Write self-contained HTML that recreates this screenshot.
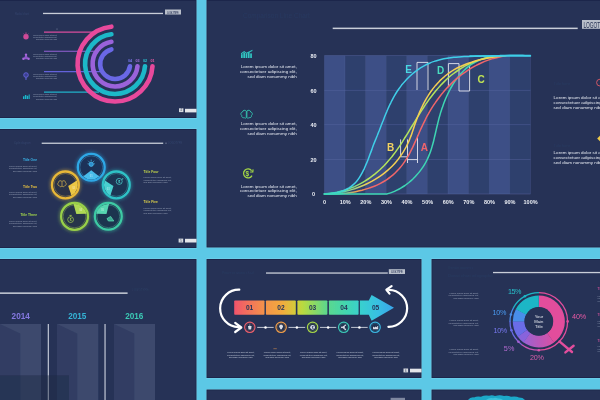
<!DOCTYPE html>
<html lang="en">
<head>
<meta charset="utf-8">
<title>Infographic slide templates</title>
<style>
  html, body { margin: 0; padding: 0; background: #5cc8e6; }
  body { width: 600px; height: 400px; overflow: hidden; font-family: "Liberation Sans", sans-serif; }
  svg { display: block; }
  text { font-family: "Liberation Sans", sans-serif; }
</style>
</head>
<body>
<svg width="600" height="400" viewBox="0 0 600 400">
  <defs>
    <linearGradient id="gArrow" x1="0" y1="0" x2="1" y2="0">
      <stop offset="0" stop-color="#ee4a6a"/>
      <stop offset="0.2" stop-color="#f5923a"/>
      <stop offset="0.36" stop-color="#e8c830"/>
      <stop offset="0.5" stop-color="#9ad848"/>
      <stop offset="0.68" stop-color="#4ad29a"/>
      <stop offset="0.85" stop-color="#38c4d4"/>
      <stop offset="1" stop-color="#3aa6ea"/>
    </linearGradient>
    <filter id="blur1" x="-20%" y="-20%" width="140%" height="140%"><feGaussianBlur stdDeviation="0.45"/></filter>
    <filter id="blur2" x="-20%" y="-20%" width="140%" height="140%"><feGaussianBlur stdDeviation="0.8"/></filter>
    <filter id="glow" x="-30%" y="-30%" width="160%" height="160%"><feGaussianBlur stdDeviation="1.6"/></filter>
    <filter id="soft" filterUnits="userSpaceOnUse" x="-10" y="-10" width="620" height="420"><feGaussianBlur stdDeviation="0.38"/></filter>
  </defs>

  <g filter="url(#soft)">
  <!-- gutters / background -->
  <rect x="-10" y="-10" width="620" height="420" fill="#5cc8e6"/>

  <!-- ================= PANELS ================= -->
  <g>
    <rect x="-3.5" y="-0.5" width="200.5" height="119" fill="#76d2ec"/>
    <rect x="-3" y="0" width="199.5" height="118" fill="#1c284a"/>
    <rect x="-2.1" y="0.9" width="197.7" height="116.2" fill="#263357"/>
    <rect x="-3.5" y="128.5" width="200.5" height="120" fill="#76d2ec"/>
    <rect x="-3" y="129" width="199.5" height="119" fill="#1c284a"/>
    <rect x="-2.1" y="129.9" width="197.7" height="117.2" fill="#263357"/>
    <rect x="-3.5" y="258.5" width="200.5" height="145" fill="#76d2ec"/>
    <rect x="-3" y="259" width="199.5" height="144" fill="#1c284a"/>
    <rect x="-2.1" y="259.9" width="197.7" height="142.2" fill="#263357"/>
    <rect x="206.0" y="-0.5" width="397.5" height="248.5" fill="#76d2ec"/>
    <rect x="206.5" y="0" width="396.5" height="247.5" fill="#1c284a"/>
    <rect x="207.4" y="0.9" width="394.7" height="245.7" fill="#263357"/>
    <rect x="206.0" y="258.5" width="216.0" height="120" fill="#76d2ec"/>
    <rect x="206.5" y="259" width="215.0" height="119" fill="#1c284a"/>
    <rect x="207.4" y="259.9" width="213.2" height="117.2" fill="#263357"/>
    <rect x="431.0" y="258.5" width="172.5" height="120" fill="#76d2ec"/>
    <rect x="431.5" y="259" width="171.5" height="119" fill="#1c284a"/>
    <rect x="432.4" y="259.9" width="169.7" height="117.2" fill="#263357"/>
    <rect x="206.0" y="389.0" width="216.0" height="14.5" fill="#76d2ec"/>
    <rect x="206.5" y="389.5" width="215.0" height="13.5" fill="#1c284a"/>
    <rect x="207.4" y="390.4" width="213.2" height="11.7" fill="#263357"/>
    <rect x="431.0" y="389.0" width="172.5" height="14.5" fill="#76d2ec"/>
    <rect x="431.5" y="389.5" width="171.5" height="13.5" fill="#1c284a"/>
    <rect x="432.4" y="390.4" width="169.7" height="11.7" fill="#263357"/>
  </g>

  <!-- PANEL-TL -->
  <g id="tl">
    <rect x="43" y="12.8" width="120" height="1.3" fill="#c9ced8"/>
    <rect x="165" y="9.5" width="16" height="5" fill="#b9bfca"/>
    <text x="173" y="13.6" font-size="3.6" text-anchor="middle" fill="#3a4566" textLength="12">LOGOTYPE</text>
    <text x="15" y="14.6" font-size="2.6" fill="#36446c">Radial chart</text>
    <rect x="56.6" y="28.4" width="0.8" height="1.4" fill="#8a93ab" opacity="0.7"/>
    <g stroke-width="1.1" fill="none">
      <path d="M44 32.1 H96" stroke="#d84c9c"/>
      <path d="M44 51.3 H95" stroke="#9460d4"/>
      <path d="M44 71.6 H100" stroke="#6462da"/>
      <path d="M44 92.1 H99" stroke="#1fb2c8"/>
    </g>
    <g fill="none" stroke-width="4.6" stroke-linecap="round">
      <path d="M152.5 66.2 A37.5 37.5 0 1 1 111.4 26.67" stroke="#e84a9c"/>
      <path d="M145 66.2 A30 30 0 1 1 111.4 34.22" stroke="#1fb8c8"/>
      <path d="M137.5 66.2 A22.5 22.5 0 1 1 111.4 41.79" stroke="#9a62da"/>
      <path d="M130 66.2 A15 15 0 1 1 111.4 49.44" stroke="#6a68e6"/>
    </g>
    <rect x="126" y="57" width="30" height="6.9" fill="#263357"/>
    <g font-size="3.7" font-weight="bold" text-anchor="middle">
      <text x="130" y="61.9" fill="#7a78ea">04</text>
      <text x="137.5" y="61.9" fill="#a870e0">03</text>
      <text x="145" y="61.9" fill="#2cc4d2">02</text>
      <text x="152.5" y="61.9" fill="#ee5aa6">01</text>
    </g>
    <g>
      <circle cx="26" cy="36.8" r="2.7" fill="#cf4a98"/>
      <path d="M23.6 33.8 l1 0.9 M28.4 33.8 l-1 0.9 M26 32.4 v1.6" stroke="#cf4a98" stroke-width="0.8" fill="none"/>
      <path d="M26 54.6 l3 4.6 h-6z" fill="#8f58cc"/>
      <circle cx="26" cy="54.8" r="1.2" fill="#a868dc"/><circle cx="23.4" cy="58.8" r="1.2" fill="#a868dc"/><circle cx="28.6" cy="58.8" r="1.2" fill="#a868dc"/>
      <circle cx="26" cy="75" r="2.3" fill="#3a3f8e" stroke="#6a68e6" stroke-width="0.8"/>
      <path d="M25 78 h2 M25.2 79.2 h1.6" stroke="#6a68e6" stroke-width="0.8"/>
      <path d="M23 99 v-2.8 h1.4 v2.8z M24.9 99 v-4 h1.4 v4z M26.8 99 v-3.2 h1.4 v3.2z M28.7 99 v-4.6 h1 v4.6z" fill="#1ab6ca"/>
    </g>
    <g fill="#aeb6c9" opacity="0.7" font-size="2.3" text-anchor="end">
      <text x="57" y="35.5" textLength="24">Lorem ipsum dolor sit amet,</text>
      <text x="57" y="37.7" textLength="24">consectetuer adipiscing elit,</text>
      <text x="57" y="39.9" textLength="21">sed diam nonummy nibh</text>
      <text x="57" y="54.8" textLength="24">Lorem ipsum dolor sit amet,</text>
      <text x="57" y="57.0" textLength="24">consectetuer adipiscing elit,</text>
      <text x="57" y="59.2" textLength="21">sed diam nonummy nibh</text>
      <text x="57" y="75.0" textLength="24">Lorem ipsum dolor sit amet,</text>
      <text x="57" y="77.2" textLength="24">consectetuer adipiscing elit,</text>
      <text x="57" y="79.4" textLength="21">sed diam nonummy nibh</text>
      <text x="57" y="95.2" textLength="24">Lorem ipsum dolor sit amet,</text>
      <text x="57" y="97.4" textLength="24">consectetuer adipiscing elit,</text>
      <text x="57" y="99.6" textLength="21">sed diam nonummy nibh</text>
    </g>
    <rect x="179" y="108.3" width="4.4" height="3.8" fill="#d5d8de"/>
    <text x="181.2" y="111.4" font-size="2.6" text-anchor="middle" fill="#263357">4</text>
    <rect x="185" y="108.8" width="11.5" height="3.6" fill="#e3e5e9"/>
  </g>
  <!-- PANEL-ML -->
  <g id="ml">
    <rect x="41.7" y="142.6" width="121.5" height="1.3" fill="#c9ced8"/>
    <circle cx="166" cy="143.2" r="0.6" fill="#8a93ab"/>
    <text x="14" y="144.4" font-size="2.6" fill="#36446c">Cycle diagram</text>
    <text x="168" y="144.4" font-size="2.6" fill="#36446c">LOGOTYPE</text>
    <g>
      <circle cx="91.25" cy="167.3" r="13.5" fill="none" stroke="#2fa8e6" stroke-width="4.4" opacity="0.4" filter="url(#glow)"/>
      <circle cx="91.25" cy="167.3" r="13.4" fill="#1d3158" stroke="#2fa8e6" stroke-width="2.3"/>
      <circle cx="91.25" cy="167.3" r="11.4" fill="none" stroke="#4cc4f2" stroke-width="0.5" opacity="0.65"/>
      <path d="M91.24 170.30 L99.29 176.61 A12.3 12.3 0 0 1 83.15 176.56 Z" fill="#4cc4f2" opacity="0.95"/>
    </g>
    <g>
      <circle cx="65.4" cy="184.9" r="13.5" fill="none" stroke="#e8b838" stroke-width="4.4" opacity="0.4" filter="url(#glow)"/>
      <circle cx="65.4" cy="184.9" r="13.4" fill="#2b3147" stroke="#e8b838" stroke-width="2.3"/>
      <circle cx="65.4" cy="184.9" r="11.4" fill="none" stroke="#f5cf44" stroke-width="0.5" opacity="0.65"/>
      <path d="M68.23 185.90 L76.84 180.38 A12.3 12.3 0 0 1 71.46 195.60 Z" fill="#f5cf44" opacity="0.95"/>
    </g>
    <g>
      <circle cx="116.3" cy="184.9" r="13.5" fill="none" stroke="#2fc2c6" stroke-width="4.4" opacity="0.4" filter="url(#glow)"/>
      <circle cx="116.3" cy="184.9" r="13.4" fill="#1d3452" stroke="#2fc2c6" stroke-width="2.3"/>
      <circle cx="116.3" cy="184.9" r="11.4" fill="none" stroke="#4cd8d6" stroke-width="0.5" opacity="0.65"/>
      <path d="M113.48 185.92 L110.32 195.65 A12.3 12.3 0 0 1 104.82 180.47 Z" fill="#4cd8d6" opacity="0.95"/>
    </g>
    <g>
      <circle cx="74.55" cy="216.4" r="13.5" fill="none" stroke="#98d048" stroke-width="4.4" opacity="0.4" filter="url(#glow)"/>
      <circle cx="74.55" cy="216.4" r="13.4" fill="#28354a" stroke="#98d048" stroke-width="2.3"/>
      <circle cx="74.55" cy="216.4" r="11.4" fill="none" stroke="#b6e254" stroke-width="0.5" opacity="0.65"/>
      <path d="M76.34 213.99 L73.60 204.14 A12.3 12.3 0 0 1 86.56 213.75 Z" fill="#b6e254" opacity="0.95"/>
    </g>
    <g>
      <circle cx="108.3" cy="216.3" r="13.5" fill="none" stroke="#3ecaa4" stroke-width="4.4" opacity="0.4" filter="url(#glow)"/>
      <circle cx="108.3" cy="216.3" r="13.4" fill="#1e364f" stroke="#3ecaa4" stroke-width="2.3"/>
      <circle cx="108.3" cy="216.3" r="11.4" fill="none" stroke="#5adeb6" stroke-width="0.5" opacity="0.65"/>
      <path d="M106.47 213.92 L96.24 213.86 A12.3 12.3 0 0 1 109.04 204.02 Z" fill="#5adeb6" opacity="0.95"/>
    </g>
    <g fill="none" stroke-width="0.7">
      <circle cx="91.2" cy="164.2" r="2.2" stroke="#4cc4f2" fill="#2f8fce"/>
      <path d="M91.2 159.6 v1.4 M88.2 160.8 l1 1 M94.2 160.8 l-1 1 M87.6 163.8 h1 M93.8 163.8 h1" stroke="#4cc4f2"/>
      <path d="M58.4 182.6 c0 -2 2.6 -2.6 3.6 -1 c1 -1.6 3.6 -1 3.6 1 c1.2 1 0.6 3 -0.8 3 c-0.6 1.4 -2.2 1.4 -2.8 0.4 c-0.6 1 -2.2 1 -2.8 -0.4 c-1.4 0 -2 -2 -0.8 -3z M62 181.8 v4.4" stroke="#d8b64c"/>
      <circle cx="119.2" cy="181.4" r="3" stroke="#4cd8d6"/>
      <path d="M122 179 l0.9 0.2 l-0.1 -1" stroke="#4cd8d6"/>
      <circle cx="70.6" cy="219.6" r="2.9" stroke="#a6d44e"/>
      <path d="M70.6 215.6 v1 M69.4 215.4 h2.4" stroke="#a6d44e"/>
      <path d="M110.6 216.4 l3.2 4.6 h-5.4 l-1.4 -2.4z" stroke="#5adeb6" fill="#3aa890"/>
    </g>
    <text x="119.2" y="182.8" font-size="3.8" font-weight="bold" text-anchor="middle" fill="#4cd8d6">$</text>
    <text x="70.6" y="220.8" font-size="3.2" font-weight="bold" text-anchor="middle" fill="#a6d44e">$</text>
    <g font-size="2.6" font-weight="bold" text-anchor="middle" fill="#ffffff" opacity="0.45">
      <text x="91.2" y="176.8">01</text><text x="73.6" y="189.4">02</text><text x="108.2" y="190.2">03</text>
      <text x="80.6" y="210.6">04</text><text x="102.4" y="210.6">05</text>
    </g>
    <text x="37" y="161" font-size="3.3" font-weight="bold" text-anchor="end" fill="#3ab4ea">Title One</text>
    <text x="37" y="166.6" font-size="2.3" text-anchor="end" fill="#aeb6c9" opacity="0.8" textLength="28">Lorem ipsum dolor sit amet,</text>
    <text x="37" y="169.2" font-size="2.3" text-anchor="end" fill="#aeb6c9" opacity="0.8" textLength="28">consectetuer adipiscing elit,</text>
    <text x="37" y="171.8" font-size="2.3" text-anchor="end" fill="#aeb6c9" opacity="0.8" textLength="24">sed diam nonummy nibh</text>
    <text x="37" y="187.6" font-size="3.3" font-weight="bold" text-anchor="end" fill="#e8c040">Title Two</text>
    <text x="37" y="192.8" font-size="2.3" text-anchor="end" fill="#aeb6c9" opacity="0.8" textLength="28">Lorem ipsum dolor sit amet,</text>
    <text x="37" y="195.4" font-size="2.3" text-anchor="end" fill="#aeb6c9" opacity="0.8" textLength="28">consectetuer adipiscing elit,</text>
    <text x="37" y="198.0" font-size="2.3" text-anchor="end" fill="#aeb6c9" opacity="0.8" textLength="24">sed diam nonummy nibh</text>
    <text x="37" y="216" font-size="3.3" font-weight="bold" text-anchor="end" fill="#a4d84a">Title Three</text>
    <text x="37" y="221.6" font-size="2.3" text-anchor="end" fill="#aeb6c9" opacity="0.8" textLength="28">Lorem ipsum dolor sit amet,</text>
    <text x="37" y="224.2" font-size="2.3" text-anchor="end" fill="#aeb6c9" opacity="0.8" textLength="28">consectetuer adipiscing elit,</text>
    <text x="37" y="226.8" font-size="2.3" text-anchor="end" fill="#aeb6c9" opacity="0.8" textLength="24">sed diam nonummy nibh</text>
    <text x="143.5" y="173" font-size="3.3" font-weight="bold" text-anchor="start" fill="#c4d64a">Title Four</text>
    <text x="143.5" y="178.2" font-size="2.3" text-anchor="start" fill="#aeb6c9" opacity="0.8" textLength="28">Lorem ipsum dolor sit amet,</text>
    <text x="143.5" y="180.8" font-size="2.3" text-anchor="start" fill="#aeb6c9" opacity="0.8" textLength="28">consectetuer adipiscing elit,</text>
    <text x="143.5" y="183.4" font-size="2.3" text-anchor="start" fill="#aeb6c9" opacity="0.8" textLength="24">sed diam nonummy nibh</text>
    <text x="143.5" y="203" font-size="3.3" font-weight="bold" text-anchor="start" fill="#e0d24a">Title Five</text>
    <text x="143.5" y="208.6" font-size="2.3" text-anchor="start" fill="#aeb6c9" opacity="0.8" textLength="28">Lorem ipsum dolor sit amet,</text>
    <text x="143.5" y="211.2" font-size="2.3" text-anchor="start" fill="#aeb6c9" opacity="0.8" textLength="28">consectetuer adipiscing elit,</text>
    <text x="143.5" y="213.8" font-size="2.3" text-anchor="start" fill="#aeb6c9" opacity="0.8" textLength="24">sed diam nonummy nibh</text>
    <rect x="178.6" y="238.6" width="4.6" height="3.9" fill="#d5d8de"/>
    <text x="180.9" y="241.7" font-size="2.6" text-anchor="middle" fill="#263357">5</text>
    <rect x="185" y="238.8" width="11.5" height="3.7" fill="#e3e5e9"/>
  </g>
  <!-- PANEL-BL -->
  <g id="bl">
    <rect x="0" y="292.4" width="127.6" height="1.5" fill="#c9ced8"/>
    <text x="132" y="291" font-size="3" fill="#2f3c62">LOGOTYPE</text>
    <g font-size="8.2" font-weight="bold" text-anchor="middle">
      <text x="20.7" y="319" fill="#8578e0">2014</text>
      <text x="77.3" y="319" fill="#35b4d6">2015</text>
      <text x="134.3" y="319" fill="#3cc8b4">2016</text>
    </g>
    <!-- folded ribbons -->
    <g>
      <rect x="0" y="324" width="41" height="76" fill="#3d496d"/>
      <path d="M0 324 L20.3 333.5 V400 H0Z" fill="#323e64"/>
      <rect x="57.3" y="324" width="41" height="76" fill="#3d496d"/>
      <path d="M57.3 324 L77.3 333.5 V400 H57.3Z" fill="#323e64"/>
      <rect x="114" y="324" width="41" height="76" fill="#3d496d"/>
      <path d="M114 324 L134.3 333.5 V400 H114Z" fill="#323e64"/>
    </g>
    <rect x="47.7" y="324" width="1.3" height="76" fill="#b4bacb"/>
    <rect x="104.4" y="324" width="1.3" height="76" fill="#b4bacb"/>
    <rect x="0" y="375.3" width="69" height="24.7" fill="#1b2540" opacity="0.42"/>
  </g>
  <!-- PANEL-MAIN -->
  <g id="main">
    <rect x="332.7" y="27.6" width="245" height="1.5" fill="#c9ced8"/>
    <rect x="582" y="20" width="18" height="8.8" fill="#b9bfca"/>
    <text x="583.4" y="27.5" font-size="8.8" fill="#2a3556" textLength="16.8" lengthAdjust="spacingAndGlyphs">LOGOT</text>
    <text x="243" y="18" font-size="6.5" fill="#2b3960" opacity="0.9">Comparison Line Chart</text>
    <rect x="324.4" y="55.6" width="20.7" height="138.4" fill="#3d4f86"/>
    <rect x="345.0" y="55.6" width="20.7" height="138.4" fill="#2f3f6d"/>
    <rect x="365.6" y="55.6" width="20.7" height="138.4" fill="#3d4f86"/>
    <rect x="386.2" y="55.6" width="20.7" height="138.4" fill="#2f3f6d"/>
    <rect x="406.8" y="55.6" width="20.7" height="138.4" fill="#3d4f86"/>
    <rect x="427.4" y="55.6" width="20.7" height="138.4" fill="#2f3f6d"/>
    <rect x="448.0" y="55.6" width="20.7" height="138.4" fill="#3d4f86"/>
    <rect x="468.6" y="55.6" width="20.7" height="138.4" fill="#2f3f6d"/>
    <rect x="489.2" y="55.6" width="20.7" height="138.4" fill="#3d4f86"/>
    <rect x="509.8" y="55.6" width="20.7" height="138.4" fill="#2f3f6d"/>
    <rect x="324.4" y="55.35" width="206" height="0.5" fill="#5a6ca6" opacity="0.8"/>
    <rect x="324.4" y="89.95" width="206" height="0.5" fill="#5a6ca6" opacity="0.8"/>
    <rect x="324.4" y="124.55" width="206" height="0.5" fill="#5a6ca6" opacity="0.8"/>
    <rect x="324.4" y="159.15" width="206" height="0.5" fill="#5a6ca6" opacity="0.8"/>
    <rect x="324.4" y="193.75" width="206" height="0.5" fill="#5a6ca6" opacity="0.8"/>
    <rect x="324.15" y="55.6" width="0.5" height="138.4" fill="#5a6ca6" opacity="0.45"/>
    <rect x="344.75" y="55.6" width="0.5" height="138.4" fill="#5a6ca6" opacity="0.45"/>
    <rect x="365.35" y="55.6" width="0.5" height="138.4" fill="#5a6ca6" opacity="0.45"/>
    <rect x="385.95" y="55.6" width="0.5" height="138.4" fill="#5a6ca6" opacity="0.45"/>
    <rect x="406.55" y="55.6" width="0.5" height="138.4" fill="#5a6ca6" opacity="0.45"/>
    <rect x="427.15" y="55.6" width="0.5" height="138.4" fill="#5a6ca6" opacity="0.45"/>
    <rect x="447.75" y="55.6" width="0.5" height="138.4" fill="#5a6ca6" opacity="0.45"/>
    <rect x="468.35" y="55.6" width="0.5" height="138.4" fill="#5a6ca6" opacity="0.45"/>
    <rect x="488.95" y="55.6" width="0.5" height="138.4" fill="#5a6ca6" opacity="0.45"/>
    <rect x="509.55" y="55.6" width="0.5" height="138.4" fill="#5a6ca6" opacity="0.45"/>
    <rect x="530.15" y="55.6" width="0.5" height="138.4" fill="#5a6ca6" opacity="0.45"/>
    <g font-size="5.5" font-weight="bold" fill="#eceef4" text-anchor="middle">
      <text x="313.6" y="58.2">80</text>
      <text x="313.6" y="92.7">60</text>
      <text x="313.6" y="127.3">40</text>
      <text x="313.6" y="161.9">20</text>
      <text x="313.6" y="196.3">0</text>
      <text x="324.6" y="204.2">0</text>
      <text x="345.2" y="204.2">10%</text>
      <text x="365.8" y="204.2">20%</text>
      <text x="386.4" y="204.2">30%</text>
      <text x="407.0" y="204.2">40%</text>
      <text x="427.6" y="204.2">50%</text>
      <text x="448.2" y="204.2">60%</text>
      <text x="468.8" y="204.2">70%</text>
      <text x="489.4" y="204.2">80%</text>
      <text x="510.0" y="204.2">90%</text>
      <text x="530.6" y="204.2">100%</text>
    </g>
    <linearGradient id="lgL" gradientUnits="userSpaceOnUse" x1="335" y1="0" x2="368" y2="0"><stop offset="0" stop-color="#3ed6b4"/><stop offset="1" stop-color="#b4e45c"/></linearGradient>
    <linearGradient id="lgY" gradientUnits="userSpaceOnUse" x1="338" y1="0" x2="368" y2="0"><stop offset="0" stop-color="#3ed6b4"/><stop offset="1" stop-color="#f4cf52"/></linearGradient>
    <linearGradient id="lgR" gradientUnits="userSpaceOnUse" x1="342" y1="0" x2="372" y2="0"><stop offset="0" stop-color="#3ed6b4"/><stop offset="0.5" stop-color="#f4a050"/><stop offset="1" stop-color="#f0666a"/></linearGradient>
    <linearGradient id="lgC" gradientUnits="userSpaceOnUse" x1="324" y1="0" x2="352" y2="0"><stop offset="0" stop-color="#3ed6b4"/><stop offset="1" stop-color="#3fcfe8"/></linearGradient>
    <g fill="none" stroke="#eceef5" stroke-width="0.95" opacity="0.9">
      <path d="M417 90 V62.4 H428 V90"/>
      <path d="M448.4 86 V63.6 H459 V91 H469.6 V65"/>
      <path d="M400.6 139.4 V156.8 H407.5 M407.5 139.4 V163 M407.5 159.6 H417.5 M417.5 135.6 V163"/>
    </g>
    <g fill="none" stroke-width="1.5" stroke-linecap="round" stroke-linejoin="round">
      <path d="M324.4 193.9 H387.2  C388.0 193.6 390.3 193.0 391.9 192.4 C393.4 191.8 394.9 191.2 396.4 190.4 C397.9 189.7 399.3 189.0 400.8 188.1 C402.2 187.3 403.6 186.4 405.0 185.5 C406.3 184.5 407.6 183.5 408.9 182.5 C410.2 181.4 411.5 180.3 412.7 179.2 C413.9 178.0 415.1 176.9 416.2 175.6 C417.3 174.4 418.4 173.2 419.4 171.9 C420.4 170.6 421.4 169.3 422.3 167.9 C423.3 166.6 424.1 165.2 424.9 163.8 C425.8 162.4 426.5 161.0 427.2 159.5 C427.9 158.1 428.5 156.6 429.1 155.1 C429.7 153.7 430.3 152.2 430.8 150.7 C431.3 149.2 431.8 147.6 432.2 146.1 C432.7 144.6 433.1 143.0 433.5 141.5 C433.9 139.9 434.3 138.3 434.6 136.7 C435.0 135.2 435.4 133.6 435.7 132.0 C436.1 130.4 436.4 128.8 436.8 127.2 C437.2 125.6 437.6 124.0 438.0 122.3 C438.4 120.7 438.8 119.1 439.2 117.5 C439.7 115.9 440.2 114.2 440.6 112.6 C441.1 111.0 441.7 109.4 442.2 107.8 C442.8 106.2 443.3 104.6 443.9 103.0 C444.5 101.4 445.2 99.9 445.8 98.3 C446.5 96.8 447.2 95.2 447.9 93.7 C448.6 92.2 449.3 90.7 450.1 89.3 C450.9 87.8 451.7 86.4 452.6 85.0 C453.4 83.6 454.3 82.2 455.2 80.9 C456.1 79.5 457.1 78.2 458.1 77.0 C459.0 75.7 460.1 74.5 461.1 73.3 C462.2 72.2 463.3 71.0 464.4 70.0 C465.6 68.9 466.7 67.9 468.0 66.9 C469.2 65.9 470.4 65.0 471.7 64.2 C473.0 63.3 474.4 62.5 475.8 61.8 C477.2 61.0 478.6 60.3 480.1 59.7 C481.5 59.1 483.1 58.6 484.6 58.1 C486.2 57.7 487.8 57.3 489.5 56.9 C491.1 56.6 492.8 56.4 494.6 56.2 C496.3 56.1 499.1 56.0 500.0 56.0" stroke="#3ed6b4"/>
      <path d="M324.4 193.9 C325.4 193.9 328.3 194.0 330.3 194.0 C332.3 194.0 334.4 194.0 336.5 193.9 C338.6 193.8 340.7 193.7 342.8 193.5 C344.9 193.3 347.1 193.0 349.2 192.7 C351.4 192.4 353.5 192.1 355.7 191.7 C357.8 191.3 359.9 190.8 362.0 190.3 C364.1 189.7 366.2 189.1 368.3 188.4 C370.3 187.8 372.3 187.0 374.3 186.2 C376.3 185.4 378.2 184.5 380.0 183.6 C381.9 182.6 383.7 181.6 385.5 180.5 C387.2 179.3 388.9 178.2 390.5 176.9 C392.1 175.7 393.7 174.4 395.1 173.0 C396.6 171.6 398.0 170.1 399.4 168.6 C400.7 167.1 401.9 165.5 403.1 163.9 C404.3 162.3 405.4 160.6 406.5 158.9 C407.5 157.2 408.5 155.4 409.5 153.6 C410.5 151.8 411.4 149.9 412.3 148.1 C413.2 146.2 414.1 144.3 414.9 142.4 C415.8 140.5 416.6 138.6 417.5 136.6 C418.3 134.7 419.2 132.7 420.0 130.8 C420.9 128.9 421.8 126.9 422.7 125.0 C423.6 123.1 424.5 121.2 425.5 119.3 C426.4 117.4 427.4 115.5 428.5 113.7 C429.5 111.8 430.6 110.0 431.7 108.2 C432.8 106.4 434.0 104.6 435.2 102.9 C436.4 101.1 437.6 99.4 438.9 97.7 C440.1 96.1 441.4 94.4 442.8 92.8 C444.1 91.2 445.5 89.6 446.9 88.1 C448.3 86.6 449.8 85.1 451.3 83.6 C452.7 82.2 454.3 80.7 455.8 79.4 C457.4 78.0 459.0 76.7 460.6 75.4 C462.2 74.2 463.9 72.9 465.6 71.8 C467.3 70.6 469.0 69.5 470.8 68.4 C472.5 67.3 474.3 66.3 476.2 65.4 C478.0 64.4 479.8 63.5 481.7 62.7 C483.6 61.9 485.6 61.1 487.5 60.4 C489.5 59.7 491.5 59.0 493.5 58.4 C495.5 57.9 497.6 57.4 499.7 56.9 C501.7 56.5 504.9 56.0 506.0 55.8" stroke="url(#lgR)"/>
      <path d="M324.4 193.9 C325.5 193.8 328.7 193.6 330.8 193.3 C332.9 193.0 334.9 192.7 337.0 192.3 C339.0 191.8 341.0 191.3 343.0 190.8 C345.0 190.2 346.9 189.6 348.8 188.9 C350.8 188.2 352.6 187.4 354.5 186.6 C356.3 185.7 358.2 184.9 360.0 183.9 C361.7 183.0 363.5 182.0 365.2 180.9 C366.9 179.8 368.6 178.7 370.2 177.6 C371.9 176.4 373.5 175.2 375.1 173.9 C376.6 172.6 378.1 171.3 379.6 170.0 C381.1 168.6 382.6 167.2 384.0 165.8 C385.4 164.3 386.7 162.9 388.0 161.3 C389.4 159.8 390.6 158.3 391.9 156.7 C393.1 155.1 394.4 153.5 395.6 151.9 C396.7 150.2 397.9 148.6 399.1 146.9 C400.2 145.2 401.3 143.5 402.4 141.8 C403.5 140.0 404.6 138.3 405.7 136.5 C406.8 134.8 407.9 133.0 408.9 131.3 C410.0 129.5 411.1 127.7 412.1 126.0 C413.2 124.2 414.3 122.4 415.4 120.6 C416.4 118.9 417.5 117.1 418.6 115.4 C419.7 113.6 420.8 111.8 421.9 110.1 C423.0 108.4 424.2 106.6 425.3 104.9 C426.5 103.2 427.7 101.6 428.8 99.9 C430.0 98.2 431.3 96.6 432.5 95.0 C433.7 93.4 435.0 91.8 436.3 90.2 C437.6 88.7 438.9 87.2 440.3 85.7 C441.7 84.2 443.0 82.8 444.5 81.4 C445.9 80.0 447.4 78.6 448.9 77.3 C450.4 76.0 452.0 74.7 453.6 73.5 C455.2 72.3 456.8 71.1 458.5 70.0 C460.2 68.9 461.9 67.8 463.6 66.8 C465.4 65.9 467.2 64.9 469.0 64.0 C470.8 63.2 472.7 62.4 474.5 61.6 C476.4 60.9 478.4 60.2 480.3 59.6 C482.3 59.0 484.2 58.4 486.2 58.0 C488.3 57.5 490.3 57.1 492.4 56.8 C494.4 56.4 496.5 56.2 498.6 56.0 C500.7 55.9 503.9 55.8 505.0 55.8" stroke="url(#lgL)"/>
      <path d="M324.4 193.9 C325.4 193.9 328.3 193.8 330.3 193.6 C332.3 193.5 334.4 193.3 336.4 193.0 C338.4 192.7 340.4 192.3 342.5 191.9 C344.5 191.5 346.5 191.0 348.6 190.5 C350.6 189.9 352.6 189.3 354.6 188.7 C356.6 188.0 358.6 187.3 360.6 186.5 C362.6 185.7 364.5 184.9 366.4 184.0 C368.3 183.1 370.2 182.1 372.1 181.1 C373.9 180.1 375.8 179.0 377.5 177.9 C379.3 176.7 381.0 175.5 382.7 174.3 C384.4 173.1 386.0 171.8 387.6 170.4 C389.1 169.1 390.7 167.7 392.1 166.2 C393.5 164.8 394.9 163.3 396.2 161.7 C397.5 160.2 398.8 158.6 399.9 156.9 C401.1 155.3 402.2 153.6 403.3 151.9 C404.3 150.1 405.3 148.4 406.3 146.6 C407.2 144.8 408.1 142.9 408.9 141.1 C409.7 139.2 410.4 137.3 411.2 135.4 C411.9 133.4 412.5 131.5 413.2 129.5 C413.9 127.5 414.5 125.6 415.2 123.6 C415.9 121.6 416.6 119.7 417.3 117.7 C418.1 115.8 418.9 113.8 419.7 111.9 C420.5 110.0 421.4 108.1 422.3 106.2 C423.2 104.3 424.2 102.5 425.2 100.7 C426.2 98.9 427.2 97.1 428.3 95.4 C429.4 93.6 430.6 91.9 431.8 90.3 C433.0 88.6 434.3 87.0 435.6 85.4 C436.9 83.9 438.3 82.4 439.7 80.9 C441.1 79.5 442.6 78.1 444.2 76.8 C445.7 75.5 447.3 74.2 449.0 73.0 C450.7 71.9 452.4 70.8 454.2 69.7 C456.0 68.7 457.9 67.7 459.8 66.8 C461.6 65.9 463.6 65.1 465.6 64.3 C467.5 63.5 469.5 62.8 471.5 62.2 C473.6 61.5 475.6 60.9 477.7 60.3 C479.7 59.8 481.8 59.3 483.8 58.9 C485.9 58.4 488.0 58.0 490.0 57.7 C492.0 57.3 494.1 57.0 496.1 56.7 C498.1 56.4 501.0 56.1 502.0 56.0" stroke="url(#lgY)"/>
      <path d="M324.4 193.9 C325.2 193.9 327.7 193.8 329.4 193.7 C331.1 193.6 332.8 193.3 334.5 193.0 C336.2 192.7 337.9 192.4 339.6 191.9 C341.3 191.4 342.9 190.8 344.5 190.2 C346.0 189.5 347.6 188.7 349.0 187.9 C350.4 187.0 351.8 186.0 353.0 184.9 C354.3 183.8 355.4 182.6 356.5 181.4 C357.6 180.1 358.6 178.7 359.5 177.3 C360.4 175.9 361.3 174.4 362.1 172.9 C362.9 171.5 363.6 169.9 364.4 168.3 C365.1 166.8 365.8 165.2 366.4 163.6 C367.1 162.1 367.7 160.5 368.3 158.9 C368.9 157.3 369.5 155.7 370.1 154.1 C370.7 152.5 371.3 150.9 371.9 149.4 C372.4 147.8 373.0 146.2 373.6 144.6 C374.2 143.0 374.8 141.4 375.5 139.9 C376.1 138.3 376.7 136.7 377.4 135.2 C378.0 133.6 378.6 132.1 379.3 130.5 C379.9 128.9 380.5 127.3 381.1 125.8 C381.7 124.2 382.3 122.6 383.0 121.0 C383.6 119.4 384.2 117.9 384.8 116.3 C385.5 114.7 386.1 113.1 386.8 111.6 C387.4 110.0 388.1 108.5 388.8 106.9 C389.5 105.4 390.2 103.8 391.0 102.3 C391.7 100.8 392.5 99.3 393.3 97.8 C394.1 96.4 395.0 94.9 395.8 93.5 C396.7 92.0 397.6 90.6 398.6 89.2 C399.6 87.8 400.6 86.4 401.6 85.1 C402.7 83.8 403.8 82.5 405.0 81.2 C406.1 79.9 407.3 78.7 408.5 77.5 C409.7 76.3 411.0 75.1 412.3 74.0 C413.6 72.9 414.9 71.8 416.3 70.8 C417.7 69.8 419.1 68.8 420.5 67.9 C422.0 67.0 423.4 66.2 424.9 65.4 C426.4 64.6 427.9 63.8 429.5 63.2 C431.0 62.5 432.6 61.9 434.1 61.4 C435.7 60.8 437.3 60.3 439.0 59.9 C440.6 59.5 442.2 59.1 443.9 58.8 C445.5 58.5 447.2 58.2 448.9 57.9 C450.6 57.7 452.3 57.5 453.9 57.3 C455.6 57.1 457.4 57.0 459.1 56.9 C460.8 56.8 462.5 56.7 464.2 56.6 C465.9 56.5 467.7 56.5 469.4 56.4 C471.1 56.3 472.8 56.3 474.5 56.3 C476.2 56.2 478.0 56.2 479.7 56.2 C481.4 56.1 483.0 56.1 484.7 56.0 C486.4 56.0 488.1 55.9 489.8 55.9 C491.5 55.8 493.1 55.8 494.8 55.7 C496.5 55.7 498.1 55.6 499.8 55.6 C501.5 55.5 503.2 55.5 504.8 55.4 C506.5 55.4 508.2 55.4 509.9 55.3 C511.5 55.3 513.2 55.3 514.9 55.3 C516.6 55.3 518.3 55.3 520.0 55.3 C521.7 55.3 523.5 55.4 525.2 55.4 C526.9 55.5 529.5 55.6 530.4 55.6" stroke="url(#lgC)"/>
      <path d="M470 56 H530.4" stroke="#3fcfe8" stroke-width="1.6"/>
    </g>
    <g font-size="10" font-weight="bold" text-anchor="middle">
      <text x="408.6" y="73" fill="#48d8e2">E</text>
      <text x="440.6" y="73.6" fill="#48dcc0">D</text>
      <text x="481" y="83" fill="#c0e454">C</text>
      <text x="390.6" y="151.2" fill="#f2d262">B</text>
      <text x="424.4" y="151.2" fill="#f0646c">A</text>
    </g>
    <g fill="#30c6c2">
      <rect x="241" y="54.2" width="1.7" height="3.8"/><rect x="243.3" y="52.8" width="1.7" height="5.2"/>
      <rect x="245.6" y="54" width="1.7" height="4"/><rect x="247.9" y="52.2" width="1.7" height="5.8"/>
      <rect x="250.2" y="53.4" width="1.7" height="4.6"/>
      <path d="M241 53.2 L244.2 51 L246.4 52.8 L252.4 49.8 V51 L246.4 54 L244.2 52.2 L241 54.4Z"/>
    </g>
    <g fill="none" stroke="#34c4ae" stroke-width="0.9">
      <path d="M246.3 111 c-1.2 -1.4 -3.6 -0.8 -3.8 1 c-1.8 0.2 -2.2 2.6 -0.8 3.4 c-0.4 1.6 1.2 2.8 2.6 2.2 c0.6 0.9 1.6 0.8 2 0 z"/>
      <path d="M246.9 111 c1.2 -1.4 3.6 -0.8 3.8 1 c1.8 0.2 2.2 2.6 0.8 3.4 c0.4 1.6 -1.2 2.8 -2.6 2.2 c-0.6 0.9 -1.6 0.8 -2 0 z"/>
    </g>
    <g fill="none" stroke="#a6da44" stroke-width="1.2">
      <path d="M251.6 170.6 A4.5 4.5 0 1 0 252 175.6"/>
      <path d="M250.6 172 l2.2 0 l0.2 -2.2" stroke-linecap="round"/>
    </g>
    <text x="247.4" y="175.6" font-size="6.4" font-weight="bold" text-anchor="middle" fill="#a6da44">$</text>
    <g font-size="4.3" fill="#e4e7ef">
      <text x="296.7" y="67.6" text-anchor="end" textLength="56" lengthAdjust="spacingAndGlyphs">Lorem ipsum dolor sit amet,</text>
      <text x="296.7" y="72.6" text-anchor="end" textLength="56.8" lengthAdjust="spacingAndGlyphs">consectetuer adipiscing elit,</text>
      <text x="296.7" y="77.6" text-anchor="end" textLength="49.2" lengthAdjust="spacingAndGlyphs">sed diam nonummy nibh</text>
      <text x="296.7" y="124.8" text-anchor="end" textLength="56" lengthAdjust="spacingAndGlyphs">Lorem ipsum dolor sit amet,</text>
      <text x="296.7" y="129.8" text-anchor="end" textLength="56.8" lengthAdjust="spacingAndGlyphs">consectetuer adipiscing elit,</text>
      <text x="296.7" y="134.8" text-anchor="end" textLength="49.2" lengthAdjust="spacingAndGlyphs">sed diam nonummy nibh</text>
      <text x="296.7" y="187.6" text-anchor="end" textLength="56" lengthAdjust="spacingAndGlyphs">Lorem ipsum dolor sit amet,</text>
      <text x="296.7" y="192.4" text-anchor="end" textLength="56.8" lengthAdjust="spacingAndGlyphs">consectetuer adipiscing elit,</text>
      <text x="296.7" y="197.2" text-anchor="end" textLength="49.2" lengthAdjust="spacingAndGlyphs">sed diam nonummy nibh</text>
      <text x="553.6" y="99" text-anchor="start" textLength="56" lengthAdjust="spacingAndGlyphs">Lorem ipsum dolor sit amet,</text>
      <text x="553.6" y="104" text-anchor="start" textLength="56.8" lengthAdjust="spacingAndGlyphs">consectetuer adipiscing elit,</text>
      <text x="553.6" y="109" text-anchor="start" textLength="49.2" lengthAdjust="spacingAndGlyphs">sed diam nonummy nibh</text>
      <text x="553.6" y="154.4" text-anchor="start" textLength="56" lengthAdjust="spacingAndGlyphs">Lorem ipsum dolor sit amet,</text>
      <text x="553.6" y="159.4" text-anchor="start" textLength="56.8" lengthAdjust="spacingAndGlyphs">consectetuer adipiscing elit,</text>
      <text x="553.6" y="164.4" text-anchor="start" textLength="49.2" lengthAdjust="spacingAndGlyphs">sed diam nonummy nibh</text>
    </g>
    <circle cx="600" cy="82.6" r="3.4" fill="none" stroke="#e05a66" stroke-width="0.9"/>
    <path d="M597.2 138.6 l3 -3 v6z" fill="#f0cc48"/>
    <text x="553.6" y="85" font-size="4" fill="#2c3a60">Title here</text>
    <text x="553.6" y="147.4" font-size="4" fill="#2c3a60">Title here</text>
  </g>
  <!-- PANEL-BM -->
  <g id="bm">
    <rect x="266" y="272.4" width="121.8" height="1.3" fill="#c9ced8"/>
    <rect x="388.8" y="269.2" width="16.2" height="4.8" fill="#b9bfca"/>
    <text x="396.9" y="273.1" font-size="3.4" text-anchor="middle" fill="#3a4566" textLength="12">LOGOTYPE</text>
    <text x="222" y="274" font-size="3.6" fill="#2c3a60">Process arrow chart</text>
    <linearGradient id="gBar" gradientUnits="userSpaceOnUse" x1="234" y1="0" x2="394" y2="0">
      <stop offset="0" stop-color="#f0546c"/>
      <stop offset="0.19" stop-color="#f4924a"/>
      <stop offset="0.30" stop-color="#f2aa3e"/>
      <stop offset="0.385" stop-color="#d2cc3a"/>
      <stop offset="0.43" stop-color="#b8da40"/>
      <stop offset="0.58" stop-color="#5cd88c"/>
      <stop offset="0.70" stop-color="#42d6b0"/>
      <stop offset="0.80" stop-color="#38cfd0"/>
      <stop offset="0.90" stop-color="#38bfe2"/>
      <stop offset="1" stop-color="#3aa4ea"/>
    </linearGradient>
    <g fill="url(#gBar)">
      <rect x="234.2" y="300.5" width="30.3" height="14.3" rx="0.8"/>
      <rect x="265.9" y="300.5" width="29.9" height="14.3" rx="0.8"/>
      <rect x="297.4" y="300.5" width="30.0" height="14.3" rx="0.8"/>
      <rect x="328.9" y="300.5" width="29.7" height="14.3" rx="0.8"/>
      <path d="M359.9 300.5 H368.8 L371.6 294.9 L394 307.7 L371.6 320.7 L368.8 314.8 H359.9 Z"/>
    </g>
    <g font-size="6.6" fill="#26345a" text-anchor="middle" font-weight="bold">
      <text x="249.6" y="310.4">01</text>
      <text x="281" y="310.4">02</text>
      <text x="312.6" y="310.4">03</text>
      <text x="343.9" y="310.4">04</text>
      <text x="375.6" y="310.4">05</text>
    </g>
    <g fill="none" stroke="#ffffff" stroke-width="2.2" stroke-linecap="round" stroke-linejoin="round">
      <path d="M239.3 289.7 A18 18 0 0 0 238.4 327.1"/>
      <path d="M235.2 322.9 L241.3 327.5 L235.2 332"/>
      <path d="M388.4 326.8 A18 18 0 0 0 388.9 289.8"/>
      <path d="M391.6 286.2 L386.4 289.7 L389.5 293.6"/>
    </g>
    <g stroke="#e9ebf1" stroke-width="0.8">
      <path d="M257.2 327.4 H273.7"/>
      <path d="M288.5 327.4 H305.2"/>
      <path d="M320.0 327.4 H336.3"/>
      <path d="M351.1 327.4 H367.7"/>
    </g>
    <circle cx="265.5" cy="327.4" r="1.25" fill="#ffffff"/>
    <circle cx="296.9" cy="327.4" r="1.25" fill="#ffffff"/>
    <circle cx="328.1" cy="327.4" r="1.25" fill="#ffffff"/>
    <circle cx="359.4" cy="327.4" r="1.25" fill="#ffffff"/>
    <circle cx="249.8" cy="327.3" r="5.2" fill="#22304f" stroke="#f0606c" stroke-width="1.15"/>
    <circle cx="249.8" cy="327.3" r="3.9" fill="none" stroke="#f0606c" stroke-width="0.35" opacity="0.6"/>
    <circle cx="281.1" cy="327.3" r="5.2" fill="#22304f" stroke="#f5a048" stroke-width="1.15"/>
    <circle cx="281.1" cy="327.3" r="3.9" fill="none" stroke="#f5a048" stroke-width="0.35" opacity="0.6"/>
    <circle cx="312.6" cy="327.3" r="5.2" fill="#22304f" stroke="#a8d848" stroke-width="1.15"/>
    <circle cx="312.6" cy="327.3" r="3.9" fill="none" stroke="#a8d848" stroke-width="0.35" opacity="0.6"/>
    <circle cx="343.7" cy="327.3" r="5.2" fill="#22304f" stroke="#3ccab8" stroke-width="1.15"/>
    <circle cx="343.7" cy="327.3" r="3.9" fill="none" stroke="#3ccab8" stroke-width="0.35" opacity="0.6"/>
    <circle cx="375.1" cy="327.3" r="5.2" fill="#22304f" stroke="#3cb8e2" stroke-width="1.15"/>
    <circle cx="375.1" cy="327.3" r="3.9" fill="none" stroke="#3cb8e2" stroke-width="0.35" opacity="0.6"/>
    <g fill="#d9dde8">
      <path d="M248 326 h3.6 l-0.5 3.4 h-2.6z"/><rect x="249.3" y="324.6" width="1" height="1"/>
      <path d="M281.1 324.4 a2 2 0 0 1 1 3.7 v1.2 h-2 v-1.2 a2 2 0 0 1 1 -3.7z"/>
      <circle cx="312.6" cy="327.3" r="2.4"/>
      <path d="M341.8 327.3 l3 -2.4 v4.8z"/><circle cx="341.9" cy="327.3" r="0.9"/><circle cx="345.3" cy="325.2" r="0.8"/><circle cx="345.3" cy="329.4" r="0.8"/>
      <path d="M373 329.2 v-2.6 l1.4 1 l1.4 -1 l1.4 1 v-1.6 h0.9 v3.2z"/>
    </g>
    <text x="312.6" y="328.6" font-size="3.4" font-weight="bold" text-anchor="middle" fill="#22304f">$</text>
    <g font-size="2.4" fill="#c9cfdd" text-anchor="middle" opacity="0.9">
      <text x="240.8" y="352.8" textLength="27">Lorem ipsum dolor sit amet,</text>
      <text x="240.8" y="355.5" textLength="27.6">consectetuer adipiscing elit,</text>
      <text x="240.8" y="358.2" textLength="23.6">sed diam nonummy nibh</text>
      <text x="277.2" y="352.8" textLength="27">Lorem ipsum dolor sit amet,</text>
      <text x="277.2" y="355.5" textLength="27.6">consectetuer adipiscing elit,</text>
      <text x="277.2" y="358.2" textLength="23.6">sed diam nonummy nibh</text>
      <text x="313.6" y="352.8" textLength="27">Lorem ipsum dolor sit amet,</text>
      <text x="313.6" y="355.5" textLength="27.6">consectetuer adipiscing elit,</text>
      <text x="313.6" y="358.2" textLength="23.6">sed diam nonummy nibh</text>
      <text x="350" y="352.8" textLength="27">Lorem ipsum dolor sit amet,</text>
      <text x="350" y="355.5" textLength="27.6">consectetuer adipiscing elit,</text>
      <text x="350" y="358.2" textLength="23.6">sed diam nonummy nibh</text>
      <text x="386" y="352.8" textLength="27">Lorem ipsum dolor sit amet,</text>
      <text x="386" y="355.5" textLength="27.6">consectetuer adipiscing elit,</text>
      <text x="386" y="358.2" textLength="23.6">sed diam nonummy nibh</text>
    </g>
    <rect x="273.4" y="348.5" width="3.4" height="0.6" fill="#f09a48" opacity="0.8"/>
    <rect x="403.5" y="368.5" width="4.6" height="3.9" fill="#d5d8de"/>
    <text x="405.8" y="371.6" font-size="2.6" text-anchor="middle" fill="#263357">6</text>
    <rect x="410" y="368.7" width="11.5" height="3.7" fill="#e3e5e9"/>
  </g>
  <!-- PANEL-BR -->
  <g id="br">
    <rect x="493" y="271.9" width="107" height="1.3" fill="#c9ced8"/>
    <text x="448" y="268.6" font-size="3.4" fill="#2c3a60">Gender statistics</text>
    <text x="448" y="276.6" font-size="4.4" fill="#2c3a60">Donut chart infographic</text>
    <path d="M538.80 295.40 A26 26 0 0 1 553.90 342.57 L547.05 332.96 A14.2 14.2 0 0 0 538.80 307.20Z" fill="#e24e9c"/>
    <linearGradient id="gSeg" gradientUnits="userSpaceOnUse" x1="556" y1="0" x2="520" y2="0"><stop offset="0" stop-color="#de4ea0"/><stop offset="1" stop-color="#9264d8"/></linearGradient>
    <path d="M554.08 342.43 A26 26 0 0 1 523.33 342.30 L530.35 332.81 A14.2 14.2 0 0 0 547.15 332.89Z" fill="url(#gSeg)"/>
    <path d="M523.52 342.43 A26 26 0 0 1 517.63 336.50 L527.24 329.65 A14.2 14.2 0 0 0 530.45 332.89Z" fill="#8864dc"/>
    <path d="M517.77 336.68 A26 26 0 0 1 512.80 321.17 L524.60 321.28 A14.2 14.2 0 0 0 527.31 329.75Z" fill="#6a6ce8"/>
    <path d="M512.80 321.40 A26 26 0 0 1 515.95 308.99 L526.32 314.62 A14.2 14.2 0 0 0 524.60 321.40Z" fill="#4a8eea"/>
    <path d="M515.84 309.19 A26 26 0 0 1 538.80 295.40 L538.80 307.20 A14.2 14.2 0 0 0 526.26 314.73Z" fill="#1fb6c6"/>
    <circle cx="538.8" cy="321.4" r="14.4" fill="#263357"/>
    <path d="M538.80 292.60 A28.8 28.8 0 0 1 538.80 350.20" fill="none" stroke="#e24e9c" stroke-width="1.25"/>
    <path d="M539.30 350.20 A28.8 28.8 0 0 1 521.47 344.40" fill="none" stroke="#c656b4" stroke-width="1.25"/>
    <path d="M521.87 344.70 A28.8 28.8 0 0 1 515.21 337.92" fill="none" stroke="#8864dc" stroke-width="1.25"/>
    <path d="M515.50 338.33 A28.8 28.8 0 0 1 510.00 320.90" fill="none" stroke="#6a6ce8" stroke-width="1.25"/>
    <path d="M510.00 321.40 A28.8 28.8 0 0 1 513.61 307.44" fill="none" stroke="#4a8eea" stroke-width="1.25"/>
    <path d="M513.37 307.88 A28.8 28.8 0 0 1 539.05 292.60" fill="none" stroke="#1fb6c6" stroke-width="1.25"/>
    <circle cx="567.60" cy="321.40" r="1.3" fill="#e24e9c"/>
    <circle cx="538.80" cy="350.20" r="1.3" fill="#d654aa"/>
    <circle cx="518.44" cy="341.76" r="1.3" fill="#a862d2"/>
    <circle cx="511.41" cy="330.30" r="1.3" fill="#6a6ce8"/>
    <circle cx="510.86" cy="314.43" r="1.3" fill="#4a8eea"/>
    <circle cx="524.84" cy="296.21" r="1.3" fill="#1fb6c6"/>
    <g stroke="#e24e9c" stroke-width="2.4" stroke-linecap="round" fill="none">
      <path d="M559.4 341.4 L572 352"/>
      <path d="M565.4 352.4 L573.6 345.8"/>
    </g>
    <g font-size="7.2">
      <text x="508" y="293.9" fill="#28c0ca" textLength="13.4">15%</text>
      <text x="492.5" y="315.2" fill="#4a9af0" textLength="13.8">10%</text>
      <text x="493.6" y="333.2" fill="#7878f0" textLength="13.6">10%</text>
      <text x="503.8" y="350.6" fill="#b46ad0" textLength="10.6">5%</text>
      <text x="530" y="360.2" fill="#da5eaa" textLength="13.8">20%</text>
      <text x="572" y="318.9" fill="#ea58a4" textLength="14.2">40%</text>
    </g>
    <g font-size="4.2" fill="#e8eaf0" text-anchor="middle">
      <text x="538.9" y="317.6">Your</text>
      <text x="538.9" y="322.9">Main</text>
      <text x="538.9" y="328.2">Title</text>
    </g>
    <g font-size="2.4" fill="#aeb6c9" text-anchor="end" opacity="0.85">
      <text x="478.6" y="293.6" textLength="29">Lorem ipsum dolor sit amet,</text>
      <text x="478.6" y="296.3" textLength="30">consectetuer adipiscing elit,</text>
      <text x="478.6" y="299.0" textLength="25">sed diam nonummy nibh</text>
      <text x="478.6" y="320.8" textLength="29">Lorem ipsum dolor sit amet,</text>
      <text x="478.6" y="323.5" textLength="30">consectetuer adipiscing elit,</text>
      <text x="478.6" y="326.2" textLength="25">sed diam nonummy nibh</text>
      <text x="478.6" y="350.0" textLength="29">Lorem ipsum dolor sit amet,</text>
      <text x="478.6" y="352.7" textLength="30">consectetuer adipiscing elit,</text>
      <text x="478.6" y="355.4" textLength="25">sed diam nonummy nibh</text>
    </g>
    <g fill="#d8509c" opacity="0.85" font-size="3.4" font-weight="bold">
      <text x="597.5" y="289.8">Title here</text>
      <text x="597.5" y="316.2">Title here</text>
      <text x="597.5" y="341.6">Title here</text>
    </g>
    <g fill="#aeb6c9" opacity="0.7" font-size="2.4">
      <text x="597.5" y="296.8">Lorem ipsum dolor sit amet,</text><text x="597.5" y="299.4">consectetuer adipiscing elit,</text><text x="597.5" y="302">sed diam nonummy nibh</text>
      <text x="597.5" y="321.8">Lorem ipsum dolor sit amet,</text><text x="597.5" y="324.4">consectetuer adipiscing elit,</text><text x="597.5" y="327">sed diam nonummy nibh</text>
      <text x="597.5" y="347.2">Lorem ipsum dolor sit amet,</text><text x="597.5" y="349.8">consectetuer adipiscing elit,</text><text x="597.5" y="352.4">sed diam nonummy nibh</text>
    </g>
  </g>
  <!-- PANEL-BB -->
  <g id="bb">
    <text x="221.6" y="405.3" font-size="7.4" font-weight="bold" fill="#aab2c8" opacity="0.75" textLength="45">Activities Map</text>
    <rect x="390.6" y="397.8" width="14.4" height="3" fill="#7f88a0"/>
    <g fill="#1fa9c9">
      <path d="M468 400 q2 -3 6 -2.6 q3 -1.4 7 -0.6 q4 -2 8 -1 q3 -1.2 6 0.2 q5 -1.6 9 0 q4 -0.6 7 0.8 q5 -0.8 8 0.8 q4 0 6 2.4z"/>
    </g>
    <g fill="#3cc4dc">
      <path d="M486 400 q3 -2.6 7 -1.8 q3 -1 5 0.4 q3 -0.6 5 1.4z"/>
    </g>
  </g>
  </g>
</svg>
</body>
</html>
